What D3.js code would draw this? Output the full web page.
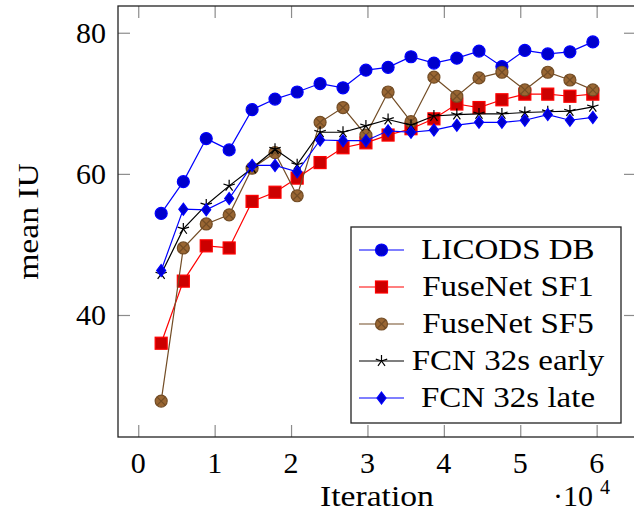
<!DOCTYPE html>
<html>
<head>
<meta charset="utf-8">
<script src="https://cdn.jsdelivr.net/npm/d3@7"></script>
<style>
  body { margin: 0; background: #fff; }
  text { font-family: "Liberation Serif", "DejaVu Serif", serif; fill: #000; }
</style>
</head>
<body>
<div id="chart"></div>
<script>
// iterations, in units of 10^4
let iterations = [0.30, 0.59, 0.89, 1.19, 1.49, 1.79, 2.08, 2.38, 2.68, 2.98,
                  3.27, 3.57, 3.87, 4.17, 4.46, 4.76, 5.06, 5.36, 5.65, 5.95];

let licodsDB = [54.4, 58.9, 65.0, 63.4, 69.1, 70.6, 71.6, 72.8, 72.2, 74.7,
                75.1, 76.6, 75.7, 76.4, 77.4, 75.2, 77.5, 77.0, 77.3, 78.7];
let fuseSF1 = [36.0, 44.8, 49.8, 49.5, 56.1, 57.4, 59.4, 61.6, 63.7, 64.4,
               65.5, 66.4, 67.8, 69.9, 69.4, 70.5, 71.3, 71.3, 71.0, 71.3];
let fuseSF5 = [27.8, 49.5, 52.9, 54.2, 60.8, 63.0, 56.9, 67.3, 69.4, 65.5,
               71.6, 67.4, 73.7, 71.0, 73.6, 74.4, 71.9, 74.4, 73.3, 71.9];
let fcnEarly = [45.8, 52.2, 55.6, 58.3, 60.8, 63.5, 61.3, 65.9, 65.9, 66.8,
                67.7, 66.9, 68.2, 68.4, 68.5, 68.5, 68.7, 68.8, 68.9, 69.5];
let fcnLate = [46.3, 55.0, 54.9, 56.5, 61.2, 61.2, 60.3, 64.8, 64.7, 64.7,
               66.1, 65.9, 66.2, 66.9, 67.3, 67.3, 67.6, 68.4, 67.6, 68.0];

let seriesNames = ["LICODS DB", "FuseNet SF1", "FuseNet SF5", "FCN 32s early", "FCN 32s late"];
let xTicks = [0, 1, 2, 3, 4, 5, 6];
let yTicks = [40, 60, 80];

// pgfplots default cycle list look
let styles = [
  { values: licodsDB, line: "#0000ff", fill: "#0000cc", mark: "circle" },
  { values: fuseSF1,  line: "#ff0000", fill: "#cc0000", mark: "square" },
  { values: fuseSF5,  line: "#734d26", fill: "#996633", mark: "otimes" },
  { values: fcnEarly, line: "#000000", fill: "none",    mark: "star" },
  { values: fcnLate,  line: "#0000ff", fill: "#0000cc", mark: "diamond" }
];

////////////////////////////////////////////////////////////////////////
// canvas
let width = 634, height = 513;
let plotLeft = 118, plotRight = 636, plotTop = 6, plotBottom = 437;

let svg = d3.select("#chart").append("svg")
  .attr("width", width).attr("height", height);

// enlarge limits by 10% like pgfplots
let allY = styles.flatMap(s => s.values);
let [x0, x1] = d3.extent(iterations);
let [y0, y1] = d3.extent(allY);
let ex = (x1 - x0) * 0.1, ey = (y1 - y0) * 0.1;

let xScale = d3.scaleLinear().domain([x0 - ex, x1 + ex]).range([plotLeft, plotRight]);
let yScale = d3.scaleLinear().domain([y0 - ey, y1 + ey]).range([plotBottom, plotTop]);

// widen serif text a bit so it takes the room of the original Computer Modern
function widen(sel, k) {
  sel.each(function () {
    let w = this.getComputedTextLength();
    d3.select(this).attr("textLength", w * k).attr("lengthAdjust", "spacingAndGlyphs");
  });
}

////////////////////////////////////////////////////////////////////////
// ticks (inward, on all four sides)
let tickLen = 12;
let tickColor = "#8c8c8c";

svg.append("g").attr("transform", "translate(0," + plotBottom + ")")
  .call(d3.axisTop(xScale).tickValues(xTicks).tickSize(tickLen).tickFormat(""))
  .call(g => g.select(".domain").remove())
  .selectAll("line").attr("stroke", tickColor).attr("stroke-width", 1.2);

svg.append("g").attr("transform", "translate(0," + plotTop + ")")
  .call(d3.axisBottom(xScale).tickValues(xTicks).tickSize(tickLen).tickFormat(""))
  .call(g => g.select(".domain").remove())
  .selectAll("line").attr("stroke", tickColor).attr("stroke-width", 1.2);

svg.append("g").attr("transform", "translate(" + plotLeft + ",0)")
  .call(d3.axisRight(yScale).tickValues(yTicks).tickSize(tickLen).tickFormat(""))
  .call(g => g.select(".domain").remove())
  .selectAll("line").attr("stroke", tickColor).attr("stroke-width", 1.2);

svg.append("g").attr("transform", "translate(" + plotRight + ",0)")
  .call(d3.axisLeft(yScale).tickValues(yTicks).tickSize(tickLen).tickFormat(""))
  .call(g => g.select(".domain").remove())
  .selectAll("line").attr("stroke", tickColor).attr("stroke-width", 1.2);

// tick labels
svg.selectAll(".xlabel").data(xTicks).enter().append("text")
  .attr("class", "xlabel")
  .attr("x", d => xScale(d)).attr("y", 473)
  .attr("text-anchor", "middle").attr("font-size", 30)
  .text(d => d);

svg.selectAll(".ylabel").data(yTicks).enter().append("text")
  .attr("class", "ylabel")
  .attr("x", 106).attr("y", d => yScale(d) + 10.5)
  .attr("text-anchor", "end").attr("font-size", 30)
  .text(d => d);

// axis titles
svg.append("text")
  .attr("x", (plotLeft + plotRight) / 2).attr("y", 506)
  .attr("text-anchor", "middle").attr("font-size", 30)
  .text("Iteration")
  .call(widen, 1.12);

svg.append("text")
  .attr("transform", "translate(38," + (plotTop + plotBottom) / 2 + ") rotate(-90)")
  .attr("text-anchor", "middle").attr("font-size", 30)
  .text("mean IU")
  .call(widen, 1.12);

svg.append("text").attr("x", 553).attr("y", 506).attr("font-size", 30)
  .text("\u00b710");
svg.append("text").attr("x", 600).attr("y", 494).attr("font-size", 20)
  .text("4");

////////////////////////////////////////////////////////////////////////
// markers
function drawMark(g, type, line, fill) {
  let r = 6;
  if (type == "circle") {
    g.append("circle").attr("r", r).attr("fill", fill).attr("stroke", line).attr("stroke-width", 1.2);
  } else if (type == "square") {
    g.append("rect").attr("x", -r).attr("y", -r).attr("width", 2 * r).attr("height", 2 * r)
      .attr("fill", fill).attr("stroke", line).attr("stroke-width", 1.2);
  } else if (type == "otimes") {
    g.append("circle").attr("r", r).attr("fill", fill).attr("stroke", line).attr("stroke-width", 1.2);
    let k = r * Math.SQRT1_2;
    g.append("path").attr("d", `M${-k},${-k}L${k},${k}M${-k},${k}L${k},${-k}`)
      .attr("stroke", line).attr("stroke-width", 1.2);
  } else if (type == "star") {
    let d = "";
    for (let i = 0; i < 5; i++) {
      let a = Math.PI / 2 + i * 2 * Math.PI / 5;
      d += `M0,0L${r * Math.cos(a)},${-r * Math.sin(a)}`;
    }
    g.append("path").attr("d", d).attr("stroke", line).attr("stroke-width", 1.2).attr("fill", "none");
  } else if (type == "diamond") {
    g.append("path").attr("d", `M0,${-r}L${0.75 * r},0L0,${r}L${-0.75 * r},0Z`)
      .attr("fill", fill).attr("stroke", line).attr("stroke-width", 1.2);
  }
}

////////////////////////////////////////////////////////////////////////
// series
let lineGen = d3.line()
  .x((d, i) => xScale(iterations[i]))
  .y(d => yScale(d));

styles.forEach(function (s) {
  let g = svg.append("g");
  g.append("path")
    .attr("d", lineGen(s.values))
    .attr("fill", "none")
    .attr("stroke", s.line)
    .attr("stroke-width", 1.2);
  s.values.forEach(function (v, i) {
    let m = g.append("g")
      .attr("transform", "translate(" + xScale(iterations[i]) + "," + yScale(v) + ")");
    drawMark(m, s.mark, s.line, s.fill);
  });
});

// frame
svg.append("rect")
  .attr("x", plotLeft).attr("y", plotTop)
  .attr("width", plotRight - plotLeft).attr("height", plotBottom - plotTop)
  .attr("fill", "none").attr("stroke", "#222").attr("stroke-width", 1.3);

////////////////////////////////////////////////////////////////////////
// legend
let lg = svg.append("g");
lg.append("rect")
  .attr("x", 351).attr("y", 227).attr("width", 270).attr("height", 196)
  .attr("fill", "#fff").attr("stroke", "#222").attr("stroke-width", 1.3);

seriesNames.forEach(function (name, i) {
  let y = 250 + i * 37;
  let s = styles[i];
  lg.append("line").attr("x1", 359).attr("x2", 404).attr("y1", y).attr("y2", y)
    .attr("stroke", s.line).attr("stroke-width", 1.2);
  drawMark(lg.append("g").attr("transform", "translate(381.5," + y + ")"), s.mark, s.line, s.fill);
  lg.append("text")
    .attr("x", 508).attr("y", y + 9)
    .attr("text-anchor", "middle").attr("font-size", 30)
    .text(name)
    .call(widen, 1.1);
});
</script>
</body>
</html>
